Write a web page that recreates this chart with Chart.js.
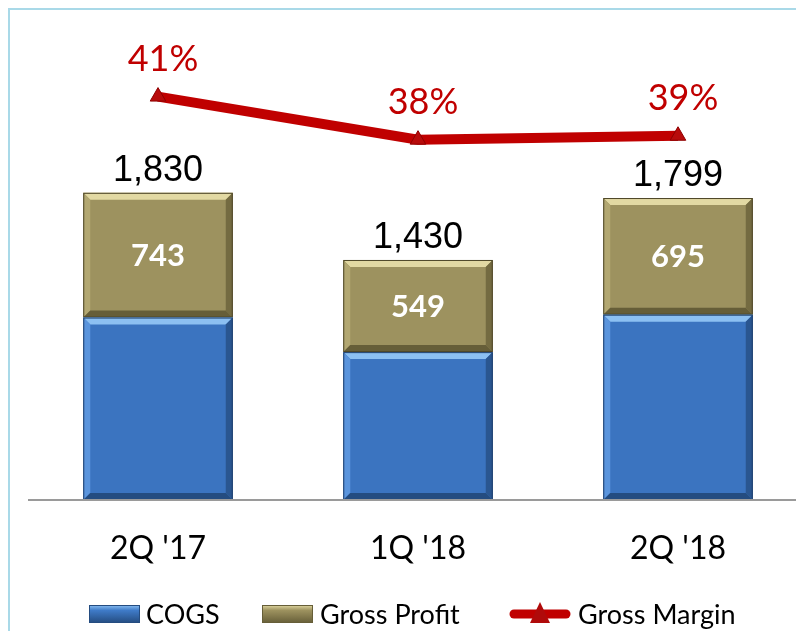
<!DOCTYPE html>
<html>
<head>
<meta charset="utf-8">
<script src="https://cdn.jsdelivr.net/npm/chart.js@4.4.1/dist/chart.umd.min.js"></script>
<style>
    html, body { margin: 0; padding: 0; background: #fff; overflow: hidden; }
    #wrap { position: relative; width: 812px; height: 631px; overflow: hidden; }
    #frame { position: absolute; left: 8px; top: 8px; width: 900px; height: 700px; border: 2px solid #a9d9e8; }
    #myChart { position: absolute; left: 0; top: 0; }
</style>
</head>
<body>
<div id="wrap">
    <div id="frame"></div>
    <canvas id="myChart" width="812" height="631"></canvas>
</div>
<script>
// dados do gráfico
const categories = ["2Q '17", "1Q '18", "2Q '18"];
const cogs = [1087, 881, 1104];
const grossProfit = [743, 549, 695];
const grossMargin = [40.6, 38.4, 38.6];   // %
const marginLabels = ['41%', '38%', '39%'];

const totals = cogs.map((v, i) => v + grossProfit[i]);

// desenha o efeito de bisel nas barras
const bevelPlugin = {
    id: 'bevel',
    afterDatasetDraw(chart, args) {
        if (args.index > 1) return;
        const ctx = chart.ctx;
        const cores = args.index === 0
            ? { top: '#8cc0f2', left: '#5b95dd', right: '#2a5690', bottom: '#244c80', line: '#1f3f6b' }
            : { top: '#e2d9a3', left: '#b3a872', right: '#746b41', bottom: '#665e38', line: '#4d4628' };
        args.meta.data.forEach(bar => {
            const x0 = bar.x - bar.width / 2, x1 = bar.x + bar.width / 2;
            const y0 = Math.min(bar.y, bar.base), y1 = Math.max(bar.y, bar.base);
            const b = 7;
            ctx.save();
            const poly = (pts, c) => {
                ctx.beginPath();
                ctx.moveTo(pts[0][0], pts[0][1]);
                for (let k = 1; k < pts.length; k++) ctx.lineTo(pts[k][0], pts[k][1]);
                ctx.closePath();
                ctx.fillStyle = c;
                ctx.fill();
            };
            poly([[x0, y0], [x1, y0], [x1 - b, y0 + b], [x0 + b, y0 + b]], cores.top);
            poly([[x0, y0], [x0 + b, y0 + b], [x0 + b, y1 - b], [x0, y1]], cores.left);
            poly([[x1, y0], [x1, y1], [x1 - b, y1 - b], [x1 - b, y0 + b]], cores.right);
            poly([[x0, y1], [x0 + b, y1 - b], [x1 - b, y1 - b], [x1, y1]], cores.bottom);
            ctx.strokeStyle = cores.line;
            ctx.lineWidth = 1;
            ctx.strokeRect(x0 + 0.5, y0 + 0.5, x1 - x0 - 1, y1 - y0 - 1);
            ctx.restore();
        });
    }
};

// eixo, rótulos e legenda
const labelsPlugin = {
    id: 'rotulos',
    afterDraw(chart) {
        const ctx = chart.ctx;
        const xScale = chart.scales.x;
        const area = chart.chartArea;
        ctx.save();

        // linha do eixo
        ctx.strokeStyle = '#9a9a9a';
        ctx.lineWidth = 2;
        ctx.beginPath();
        ctx.moveTo(area.left, area.bottom);
        ctx.lineTo(chart.width, area.bottom);
        ctx.stroke();

        ctx.textAlign = 'center';
        ctx.textBaseline = 'middle';

        // categorias
        ctx.fillStyle = '#000';
        ctx.font = '32px Lato';
        categories.forEach((c, i) => {
            ctx.fillText(c, xScale.getPixelForValue(i), 549);
        });

        // valores do lucro bruto
        const gpMeta = chart.getDatasetMeta(1);
        ctx.fillStyle = '#fff';
        ctx.font = 'bold 31px Lato';
        gpMeta.data.forEach((bar, i) => {
            ctx.fillText(grossProfit[i], bar.x, (bar.y + bar.base) / 2 + 1);
        });

        // totais
        ctx.textBaseline = 'alphabetic';
        ctx.fillStyle = '#000';
        ctx.font = '36px "Liberation Sans"';
        gpMeta.data.forEach((bar, i) => {
            ctx.fillText(totals[i].toLocaleString('en-US'), bar.x, bar.y - 12);
        });

        // margem
        const lineMeta = chart.getDatasetMeta(2);
        ctx.fillStyle = '#c00000';
        ctx.font = '36px Lato';
        lineMeta.data.forEach((pt, i) => {
            ctx.fillText(marginLabels[i], pt.x + 5, pt.y - 26);
        });

        // legenda
        const ly = 614;
        ctx.font = '27px Lato';
        ctx.textAlign = 'left';
        ctx.textBaseline = 'middle';
        const caixa = (x, c1, c2, c3) => {
            const g = ctx.createLinearGradient(0, ly - 9, 0, ly + 9);
            g.addColorStop(0, c1);
            g.addColorStop(0.3, c2);
            g.addColorStop(1, c3);
            ctx.fillStyle = g;
            ctx.fillRect(x, ly - 9, 51, 18);
            ctx.strokeStyle = c3;
            ctx.lineWidth = 1;
            ctx.strokeRect(x + 0.5, ly - 8.5, 50, 17);
        };
        caixa(89, '#8cc0f2', '#3f7bc8', '#244c80');
        ctx.fillStyle = '#000';
        ctx.fillText('COGS', 146, ly + 1);
        caixa(262, '#e2d9a3', '#9d925f', '#665e38');
        ctx.fillStyle = '#000';
        ctx.fillText('Gross Profit', 320, ly + 1);

        ctx.strokeStyle = '#c00000';
        ctx.lineWidth = 9;
        ctx.lineCap = 'round';
        ctx.beginPath();
        ctx.moveTo(514, ly);
        ctx.lineTo(566, ly);
        ctx.stroke();
        ctx.fillStyle = '#b00a0a';
        ctx.beginPath();
        ctx.moveTo(540, ly - 12);
        ctx.lineTo(550, ly + 9);
        ctx.lineTo(530, ly + 9);
        ctx.closePath();
        ctx.fill();
        ctx.fillStyle = '#000';
        ctx.fillText('Gross Margin', 578, ly + 1);

        ctx.restore();
    }
};

const ctx = document.getElementById('myChart').getContext('2d');

new Chart(ctx, {
    data: {
        labels: categories,
        datasets: [
            {
                type: 'bar',
                label: 'COGS',
                data: cogs,
                backgroundColor: '#3b74c0',
                stack: 's1',
                yAxisID: 'y',
                order: 2
            },
            {
                type: 'bar',
                label: 'Gross Profit',
                data: grossProfit,
                backgroundColor: '#9d925f',
                stack: 's1',
                yAxisID: 'y',
                order: 2
            },
            {
                type: 'line',
                label: 'Gross Margin',
                data: grossMargin,
                borderColor: '#c00000',
                borderWidth: 10,
                tension: 0,
                pointStyle: 'triangle',
                pointRadius: 9,
                pointBackgroundColor: '#b80b0b',
                pointBorderColor: '#8f0000',
                pointBorderWidth: 1,
                yAxisID: 'y2',
                order: 1
            }
        ]
    },
    options: {
        responsive: false,
        animation: false,
        layout: { autoPadding: false, padding: { left: 28, top: 30, right: 4, bottom: 131 } },
        datasets: {
            bar: { barPercentage: 1, categoryPercentage: 0.575 }
        },
        scales: {
            x: { display: false, stacked: true },
            y: { display: false, stacked: true, min: 0, max: 2800 },
            y2: { display: false, min: 20, max: 44 }
        },
        plugins: {
            legend: { display: false },
            tooltip: { enabled: false }
        }
    },
    plugins: [bevelPlugin, labelsPlugin]
});
</script>
</body>
</html>
